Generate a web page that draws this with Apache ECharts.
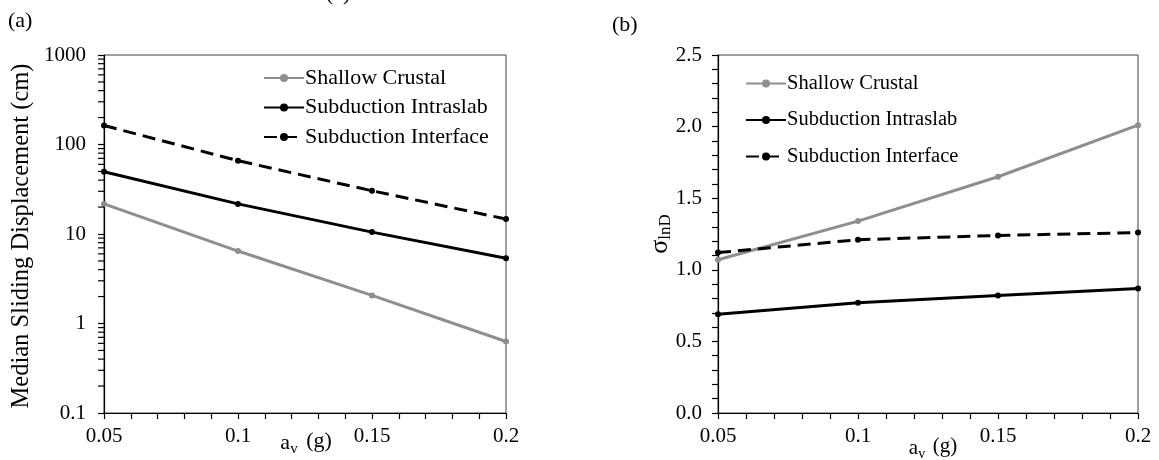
<!DOCTYPE html>
<html>
<head>
<meta charset="utf-8">
<script src="https://cdn.jsdelivr.net/npm/echarts@6/dist/echarts.min.js"></script>
<style>html,body{margin:0;padding:0;background:#fff}#c{width:1159px;height:460px}</style>
</head>
<body>
<div id="c"></div>
<script>
// ---- data ----
const xValues = [0.05, 0.1, 0.15, 0.2];
const seriesNames = ['Shallow Crustal', 'Subduction Intraslab', 'Subduction Interface'];
// (a) median sliding displacement (cm)
const dispShallow = [21.7, 6.45, 2.06, 0.63];
const dispIntraslab = [49.7, 21.7, 10.5, 5.35];
const dispInterface = [163, 66, 30.4, 14.7];
// (b) sigma lnD
const sigShallow = [1.07, 1.34, 1.65, 2.01];
const sigIntraslab = [0.69, 0.77, 0.82, 0.87];
const sigInterface = [1.12, 1.21, 1.24, 1.26];
// log-axis minor tick values for panel (a)
const logMinorTicks = [0.2,0.3,0.4,0.5,0.6,0.7,0.8,0.9,2,3,4,5,6,7,8,9,20,30,40,50,60,70,80,90,200,300,400,500,600,700,800,900];
const logMajorLabels = ['0.1', '1', '10', '100', '1000'];

const FONT = 'Liberation Serif';
const GRAY = '#8e8e8e';
const BLACK = '#000000';

function pair(ys) { return xValues.map((x, i) => [x, ys[i]]); }

function xAxisDef(gi) {
  return {
    gridIndex: gi, type: 'value', min: 0.05, max: 0.2, interval: 0.05,
    axisLine: { show: true, onZero: false, lineStyle: { color: BLACK, width: 1.2 } },
    axisTick: { show: true, inside: false, length: 6, lineStyle: { color: BLACK, width: 1.2 } },
    minorTick: { show: true, splitNumber: 5, length: 6, lineStyle: { color: BLACK, width: 1.2 } },
    splitLine: { show: false },
    axisLabel: { color: BLACK, fontFamily: FONT, fontSize: 21, margin: 13 }
  };
}

const lineStyles = [
  { color: GRAY, width: 3, type: 'solid' },
  { color: BLACK, width: 3, type: 'solid' },
  { color: BLACK, width: 3, type: [13, 7] }
];
const colors = [GRAY, BLACK, BLACK];

function mkSeries(name, idx, ys, gi) {
  return {
    name: name, type: 'line', xAxisIndex: gi, yAxisIndex: gi,
    data: pair(ys), symbol: 'circle', symbolSize: 6, showSymbol: true,
    itemStyle: { color: colors[idx] }, lineStyle: lineStyles[idx],
    emphasis: { disabled: true }, animation: false, z: 3
  };
}

function subTitle(main, sub, size, subSize, shift) {
  return {
    text: '{a|' + main + '}{s|' + sub + '}',
    align: 'center', verticalAlign: 'middle',
    rich: {
      a: { fontFamily: FONT, fontSize: size, fill: BLACK, color: BLACK, lineHeight: size + 4, verticalAlign: 'middle' },
      s: { fontFamily: FONT, fontSize: subSize, fill: BLACK, color: BLACK, lineHeight: size + 4 - shift, padding: [shift, 0, 0, 0], verticalAlign: 'middle' }
    }
  };
}

const chart = echarts.init(document.getElementById('c'), null, { renderer: 'canvas' });
const option = {
  backgroundColor: '#ffffff',
  animation: false,
  textStyle: { fontFamily: FONT, color: BLACK },
  grid: [
    { left: 104, top: 55, width: 402, height: 358, show: true, borderColor: '#404040', borderWidth: 1, backgroundColor: 'transparent' },
    { left: 718, top: 55, width: 420, height: 358, show: true, borderColor: '#404040', borderWidth: 1, backgroundColor: 'transparent' }
  ],
  legend: [
    {
      data: seriesNames, orient: 'vertical', left: 258, top: 62,
      itemWidth: 40, itemHeight: 10, itemGap: 7.5,
      textStyle: { fontFamily: FONT, fontSize: 22, color: BLACK, lineHeight: 22, padding: [0, 0, 0, -4] },
      selectedMode: false
    },
    {
      data: seriesNames, orient: 'vertical', left: 740, top: 68,
      itemWidth: 40, itemHeight: 10, itemGap: 15.5,
      textStyle: { fontFamily: FONT, fontSize: 20.5, color: BLACK, lineHeight: 21, padding: [0, 0, 0, -4] },
      selectedMode: false
    }
  ],
  xAxis: [xAxisDef(0), xAxisDef(1)],
  yAxis: [
    {
      gridIndex: 0, type: 'log', logBase: 10, min: 0.1, max: 1000,
      axisLine: { show: true, lineStyle: { color: BLACK, width: 1.2 } },
      axisTick: { show: true, inside: false, length: 6, lineStyle: { color: BLACK, width: 1.2 } },
      splitLine: { show: false },
      axisLabel: {
        color: BLACK, fontFamily: FONT, fontSize: 21, margin: 18,
        formatter: function (v) {
          const k = Math.round(Math.log10(v)) + 1;
          return logMajorLabels[k] !== undefined ? logMajorLabels[k] : String(v);
        }
      }
    },
    {
      gridIndex: 1, type: 'value', min: 0, max: 2.5, interval: 0.5,
      axisLine: { show: true, lineStyle: { color: BLACK, width: 1.2 } },
      axisTick: { show: true, inside: false, length: 6, lineStyle: { color: BLACK, width: 1.2 } },
      minorTick: { show: true, splitNumber: 5, length: 6, lineStyle: { color: BLACK, width: 1.2 } },
      splitLine: { show: false },
      axisLabel: { color: BLACK, fontFamily: FONT, fontSize: 21, margin: 16, formatter: v => v.toFixed(1) }
    }
  ],
  series: [
    mkSeries(seriesNames[0], 0, dispShallow, 0),
    mkSeries(seriesNames[1], 1, dispIntraslab, 0),
    mkSeries(seriesNames[2], 2, dispInterface, 0),
    mkSeries(seriesNames[0], 0, sigShallow, 1),
    mkSeries(seriesNames[1], 1, sigIntraslab, 1),
    mkSeries(seriesNames[2], 2, sigInterface, 1),
    {
      type: 'custom', xAxisIndex: 0, yAxisIndex: 0, silent: true, clip: false, z: 4,
      data: logMinorTicks.map(v => [0.05, v]),
      renderItem: function (params, api) {
        const p = api.coord([api.value(0), api.value(1)]);
        return {
          type: 'line',
          shape: { x1: p[0] - 6, y1: p[1], x2: p[0], y2: p[1] },
          style: { stroke: BLACK, lineWidth: 1.2 }
        };
      }
    }
  ],
  graphic: [
    { type: 'text', left: 8, top: 10, style: { text: '(a)', font: '22px "Liberation Serif"', fill: BLACK } },
    { type: 'text', left: 612, top: 14, style: { text: '(b)', font: '22px "Liberation Serif"', fill: BLACK } },
    { type: 'text', left: 326, top: -17, style: { text: '(c)', font: '22px "Liberation Serif"', fill: BLACK } },
    {
      type: 'text', x: 22, y: 236, rotation: Math.PI / 2,
      style: { text: 'Median Sliding Displacement (cm)', font: '24.5px "Liberation Serif"', fill: BLACK, align: 'center', verticalAlign: 'middle' }
    },
    { type: 'text', x: 289, y: 443, style: subTitle('a', 'v', 22, 15, 12) },
    { type: 'text', x: 319, y: 441, style: { text: '(g)', font: '22px "Liberation Serif"', fill: BLACK, align: 'center', verticalAlign: 'middle' } },
    { type: 'text', x: 917, y: 448, style: subTitle('a', 'v', 21, 14, 12) },
    { type: 'text', x: 945, y: 446, style: { text: '(g)', font: '21px "Liberation Serif"', fill: BLACK, align: 'center', verticalAlign: 'middle' } },
    { type: 'text', x: 660, y: 234, rotation: Math.PI / 2, style: subTitle('σ', 'lnD', 26, 17, 12) }
  ]
};
chart.setOption(option);
</script>
</body>
</html>
